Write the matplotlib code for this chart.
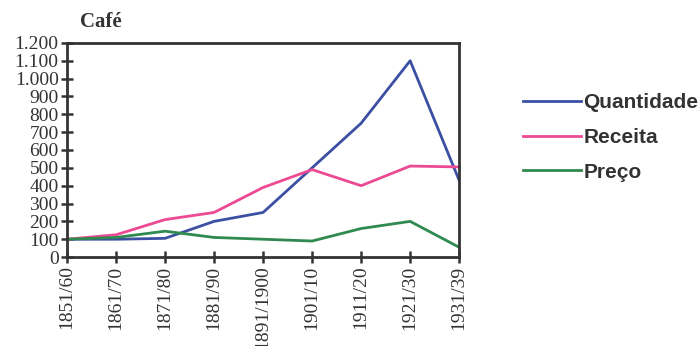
import matplotlib
matplotlib.use("Agg")
import matplotlib.pyplot as plt

categories = ["1851/60", "1861/70", "1871/80", "1881/90", "1891/1900",
              "1901/10", "1911/20", "1921/30", "1931/39"]
quantidade = [100, 100, 105, 200, 250, 500, 750, 1100, 430]
receita = [100, 125, 210, 250, 390, 490, 400, 510, 505]
preco = [100, 110, 145, 110, 100, 90, 160, 200, 55]
yticks = list(range(0, 1201, 100))
ytick_labels = ["0", "100", "200", "300", "400", "500", "600", "700", "800",
                "900", "1.000", "1.100", "1.200"]

fig = plt.figure(figsize=(6.99, 3.46), dpi=100)
ax = fig.add_axes([0.0959, 0.257, 0.561, 0.619])

x = list(range(len(categories)))
l1, = ax.plot(x, quantidade, color="#3b4fa3", lw=2.0, label="Quantidade")
l2, = ax.plot(x, receita, color="#ec4a93", lw=2.0, label="Receita")
l3, = ax.plot(x, preco, color="#2f8a50", lw=2.0, label="Preço")

ax.set_xlim(0, len(categories) - 1)
ax.set_ylim(0, 1200)
ax.set_xticks(x)
ax.set_xticklabels(categories, rotation=90, fontfamily="Liberation Serif",
                   fontsize=14, color="#333333")
ax.set_yticks(yticks)
ax.set_yticklabels(ytick_labels, fontfamily="Liberation Serif", fontsize=14,
                   color="#333333")
ax.tick_params(direction="inout", length=8, width=1.8, color="#333333", pad=2)
for s in ax.spines.values():
    s.set_linewidth(2.0)
    s.set_color("#333333")

fig.text(0.114, 0.935, "Café", fontfamily="Liberation Serif", fontweight="bold",
         fontsize=15, color="#333333", va="center", ha="left")

leg = fig.legend(handles=[l1, l2, l3], loc="upper left",
                 bbox_to_anchor=(0.748, 0.73), frameon=False,
                 prop={"size": 15},
                 handlelength=2.8, handletextpad=0.1, labelspacing=0.75,
                 borderaxespad=0, borderpad=0)
for t in leg.get_texts():
    t.set_color("#333333")
    t.set_fontfamily("Liberation Sans")
    t.set_fontweight("bold")

fig.savefig("out.png", dpi=100)
